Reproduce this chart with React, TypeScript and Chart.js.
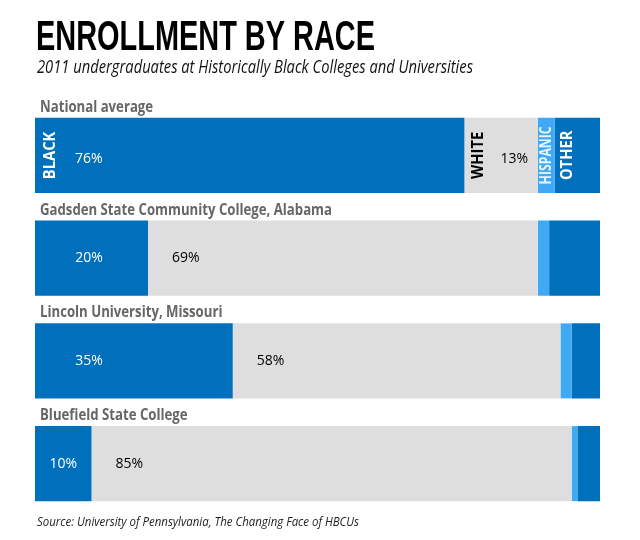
import React, { useEffect, useRef } from "react";
import { Chart, registerables } from "chart.js";

Chart.register(...registerables);

const categories = [
  "National average",
  "Gadsden State Community College, Alabama",
  "Lincoln University, Missouri",
  "Bluefield State College",
];
const seriesNames = ["BLACK", "WHITE", "HISPANIC", "OTHER"];
const blackValues = [76, 20, 35, 10];
const whiteValues = [13, 69, 58, 85];
const hispanicValues = [3, 2, 2, 1];
const otherValues = [8, 9, 5, 4];

const TITLE = "ENROLLMENT BY RACE";
const SUBTITLE = "2011 undergraduates at Historically Black Colleges and Universities";
const SOURCE = "Source: University of Pennsylvania, The Changing Face of HBCUs";

const DARK_BLUE = "#0070bd";
const LIGHT_GRAY = "#dedede";
const LIGHT_BLUE = "#3fa9f5";

function drawScaled(
  ctx: CanvasRenderingContext2D,
  text: string,
  x: number,
  y: number,
  font: string,
  color: string,
  sx: number,
  align: CanvasTextAlign = "left",
  baseline: CanvasTextBaseline = "alphabetic",
  rotate = 0
) {
  ctx.save();
  ctx.font = font;
  ctx.fillStyle = color;
  ctx.textAlign = align;
  ctx.textBaseline = baseline;
  ctx.translate(x, y);
  if (rotate) ctx.rotate(rotate);
  ctx.scale(sx, 1);
  ctx.fillText(text, 0, 0);
  ctx.restore();
}

function fitScale(ctx: CanvasRenderingContext2D, text: string, font: string, width: number) {
  ctx.save();
  ctx.font = font;
  const w = ctx.measureText(text).width;
  ctx.restore();
  return w > 0 ? width / w : 1;
}

const textPlugin = {
  id: "textPlugin",
  afterDatasetsDraw(chart: any) {
    const ctx: CanvasRenderingContext2D = chart.ctx;
    const left = chart.chartArea.left;

    const titleFont = "bold 42px 'Liberation Sans', sans-serif";
    drawScaled(ctx, TITLE, left + 1, 50, titleFont, "#000", fitScale(ctx, TITLE, titleFont, 339));
    const subFont = "italic 18px 'Open Sans', sans-serif";
    drawScaled(ctx, SUBTITLE, left + 2, 73, subFont, "#111", fitScale(ctx, SUBTITLE, subFont, 436));
    const srcFont = "italic 13px 'Open Sans', sans-serif";
    drawScaled(ctx, SOURCE, left + 2, 526, srcFont, "#222", fitScale(ctx, SOURCE, srcFont, 322));

    const rowFont = "bold 16px 'Open Sans', sans-serif";
    const rowScale = fitScale(ctx, categories[1], rowFont, 292);
    const pctFont = "14px 'Open Sans', sans-serif";
    const vFont = "bold 15.5px 'Open Sans', sans-serif";

    const metas = [0, 1, 2, 3].map((d) => chart.getDatasetMeta(d));
    categories.forEach((cat, i) => {
      const bars = metas.map((m: any) => m.data[i]);
      const b0 = bars[0];
      const top = b0.y - b0.height / 2;
      const cy = b0.y;
      drawScaled(ctx, cat, bars[0].base + 5, top - 6, rowFont, "#666", rowScale);

      const bStart = bars[0].base;
      const bEnd = bars[0].x;
      const wStart = bars[1].base;
      const hStart = bars[2].base;
      const hEnd = bars[2].x;
      const oStart = bars[3].base;

      if (i === 0) {
        drawScaled(ctx, seriesNames[0], bStart + 16, cy, vFont, "#fff", 0.95, "center", "middle", -Math.PI / 2);
        drawScaled(ctx, seriesNames[1], wStart + 14, cy, vFont, "#000", 0.95, "center", "middle", -Math.PI / 2);
        drawScaled(ctx, seriesNames[2], (hStart + hEnd) / 2, cy, vFont, "#e8f4ff",
          fitScale(ctx, seriesNames[2], vFont, 58), "center", "middle", -Math.PI / 2);
        drawScaled(ctx, seriesNames[3], oStart + 13, cy, vFont, "#fff", 0.95, "center", "middle", -Math.PI / 2);
        drawScaled(ctx, blackValues[i] + "%", bStart + 40, cy + 4, pctFont, "#fff", 1, "left", "middle");
        drawScaled(ctx, whiteValues[i] + "%", wStart + 36, cy + 4, pctFont, "#000", 1, "left", "middle");
      } else {
        const bx = bStart + Math.min((bEnd - bStart) / 2, 54);
        drawScaled(ctx, blackValues[i] + "%", bx, cy, pctFont, "#fff", 1, "center", "middle");
        drawScaled(ctx, whiteValues[i] + "%", wStart + 24, cy, pctFont, "#000", 1, "left", "middle");
      }
    });
  },
};

export default function App() {
  const ref = useRef<HTMLCanvasElement | null>(null);
  useEffect(() => {
    if (!ref.current) return;
    const chart = new Chart(ref.current, {
      type: "bar",
      data: {
        labels: categories,
        datasets: [
          { label: seriesNames[0], data: blackValues, backgroundColor: DARK_BLUE },
          { label: seriesNames[1], data: whiteValues, backgroundColor: LIGHT_GRAY },
          { label: seriesNames[2], data: hispanicValues, backgroundColor: LIGHT_BLUE },
          { label: seriesNames[3], data: otherValues, backgroundColor: DARK_BLUE },
        ],
      },
      options: {
        indexAxis: "y",
        responsive: false,
        animation: false,
        devicePixelRatio: 1,
        layout: { padding: { left: 35, right: 40, top: 104, bottom: 25 } },
        datasets: { bar: { categoryPercentage: 1, barPercentage: 0.73, borderWidth: 0 } },
        scales: {
          x: { stacked: true, min: 0, max: 100, display: false },
          y: { stacked: true, display: false },
        },
        plugins: { legend: { display: false }, tooltip: { enabled: false } },
      },
      plugins: [textPlugin],
    });
    return () => chart.destroy();
  }, []);
  return (
    <div style={{ position: "fixed", left: 0, top: 0, width: 640, height: 540, background: "#fff" }}>
      <canvas ref={ref} width={640} height={540} />
    </div>
  );
}
